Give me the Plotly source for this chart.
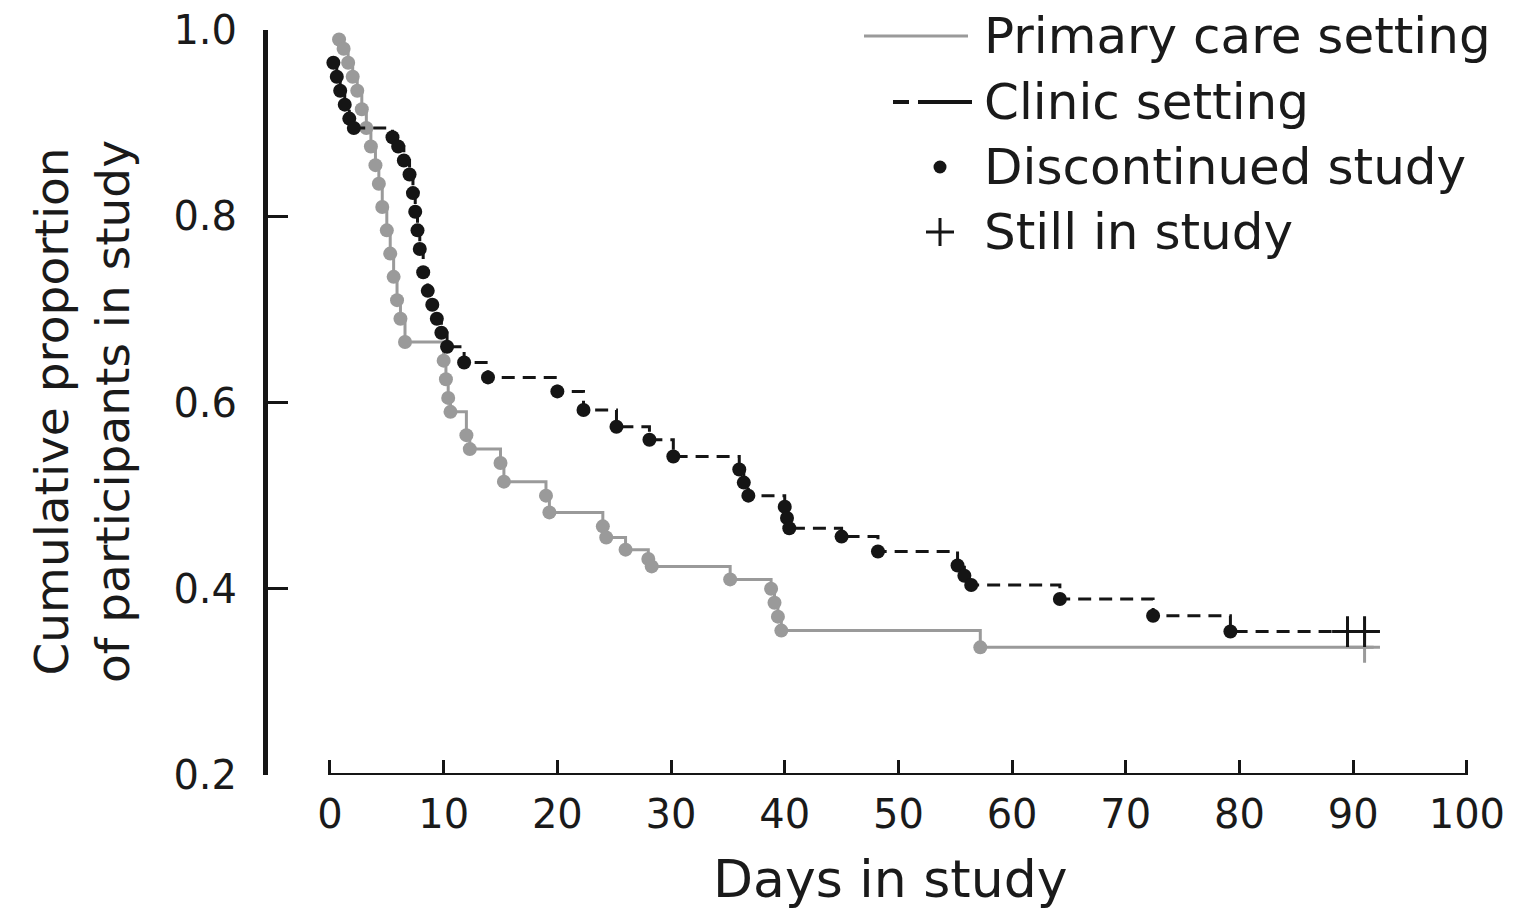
import plotly.graph_objects as go

# ---- data ----
primary_t = [0.8, 1.2, 1.6, 2.0, 2.4, 2.8, 3.2, 3.6, 4.0, 4.3, 4.6, 5.0, 5.3, 5.6, 5.9, 6.2, 6.6,
             10.0, 10.2, 10.4, 10.6, 12.0, 12.3, 15.0, 15.3, 19.0, 19.3, 24.0, 24.3, 26.0,
             28.0, 28.3, 35.2, 38.8, 39.1, 39.4, 39.7, 57.2]
primary_s = [0.99, 0.98, 0.965, 0.95, 0.935, 0.915, 0.895, 0.875, 0.855, 0.835, 0.81, 0.785,
             0.76, 0.735, 0.71, 0.69, 0.665, 0.645, 0.625, 0.605, 0.59, 0.565, 0.55, 0.535,
             0.515, 0.50, 0.482, 0.467, 0.455, 0.442, 0.432, 0.424, 0.41, 0.40, 0.385, 0.37,
             0.355, 0.337]
primary_censor_t = [91.0]
primary_end_t = 91.8

clinic_t = [0.3, 0.6, 0.9, 1.3, 1.7, 2.1, 5.5, 6.0, 6.5, 7.0, 7.3, 7.5, 7.7, 7.9, 8.2, 8.6,
            9.0, 9.4, 9.8, 10.3, 11.8, 13.9, 20.0, 22.3, 25.2, 28.1, 30.2, 36.0, 36.4, 36.8,
            40.0, 40.2, 40.4, 45.0, 48.2, 55.2, 55.8, 56.4, 64.2, 72.4, 79.2]
clinic_s = [0.965, 0.95, 0.935, 0.92, 0.905, 0.895, 0.885, 0.875, 0.86, 0.845, 0.825, 0.805,
            0.785, 0.765, 0.74, 0.72, 0.705, 0.69, 0.675, 0.66, 0.643, 0.627, 0.612, 0.592,
            0.574, 0.56, 0.542, 0.528, 0.514, 0.50, 0.488, 0.476, 0.465, 0.456, 0.44, 0.425,
            0.414, 0.404, 0.389, 0.371, 0.354]
clinic_censor_t = [89.5, 91.0]
clinic_end_t = 92.0

x_ticks = [0, 10, 20, 30, 40, 50, 60, 70, 80, 90, 100]
y_ticks = [0.2, 0.4, 0.6, 0.8, 1.0]
y_tick_text = ["0.2", "0.4", "0.6", "0.8", "1.0"]
legend_labels = ["Primary care setting", "Clinic setting", "Discontinued study", "Still in study"]

GRAY = "#9a9a9a"
BLACK = "#151515"
FONT = "DejaVu Sans"

fig = go.Figure()

# primary care curve
fig.add_trace(go.Scatter(
    x=primary_t + [primary_end_t], y=primary_s + [primary_s[-1]],
    mode="lines", line=dict(color=GRAY, width=3, shape="hv"), showlegend=False))
fig.add_trace(go.Scatter(
    x=primary_t, y=primary_s, mode="markers",
    marker=dict(color=GRAY, size=14, symbol="circle"), showlegend=False))
fig.add_trace(go.Scatter(
    x=primary_censor_t, y=[primary_s[-1]] * len(primary_censor_t), mode="markers",
    marker=dict(symbol="cross-thin", size=22, line=dict(color=GRAY, width=3)),
    showlegend=False))

# clinic curve
fig.add_trace(go.Scatter(
    x=clinic_t + [clinic_end_t], y=clinic_s + [clinic_s[-1]],
    mode="lines", line=dict(color=BLACK, width=3, shape="hv", dash="13px,8px"),
    showlegend=False))
fig.add_trace(go.Scatter(
    x=clinic_t, y=clinic_s, mode="markers",
    marker=dict(color=BLACK, size=14, symbol="circle"), showlegend=False))
fig.add_trace(go.Scatter(
    x=clinic_censor_t, y=[clinic_s[-1]] * len(clinic_censor_t), mode="markers",
    marker=dict(symbol="cross-thin", size=22, line=dict(color=BLACK, width=3)),
    showlegend=False))

# detached x axis line from 0 to 100
fig.add_shape(type="line", xref="x", yref="y", x0=x_ticks[0], x1=x_ticks[-1],
              y0=y_ticks[0], y1=y_ticks[0], line=dict(color=BLACK, width=4))

# geometry (window pixels; page body has an 8px margin)
OFF = 8
W, H = 1517 - OFF, 912 - OFF
L, T = 268 - OFF, 30 - OFF
R = W - (1501 - OFF)
B = H - (775 - OFF)
pw, ph = W - L - R, H - T - B

def px(xp):
    return (xp - OFF - L) / pw

def py(yp):
    return (H - B - (yp - OFF)) / ph

rows_py = [36, 102, 167, 232]
fig.add_shape(type="line", xref="paper", yref="paper", x0=px(864), x1=px(968),
              y0=py(rows_py[0]), y1=py(rows_py[0]), line=dict(color=GRAY, width=3))
fig.add_shape(type="line", xref="paper", yref="paper", x0=px(893), x1=px(909),
              y0=py(rows_py[1]), y1=py(rows_py[1]), line=dict(color=BLACK, width=4))
fig.add_shape(type="line", xref="paper", yref="paper", x0=px(918), x1=px(972),
              y0=py(rows_py[1]), y1=py(rows_py[1]), line=dict(color=BLACK, width=4))
fig.add_trace(go.Scatter(x=[px(940)], y=[py(rows_py[2])], xaxis="x2", yaxis="y2",
                         mode="markers", marker=dict(color=BLACK, size=13),
                         showlegend=False, cliponaxis=False))
fig.add_trace(go.Scatter(x=[px(940)], y=[py(rows_py[3])], xaxis="x2", yaxis="y2",
                         mode="markers",
                         marker=dict(symbol="cross-thin", size=20, line=dict(color=BLACK, width=3)),
                         showlegend=False, cliponaxis=False))
for lab, r in zip(legend_labels, rows_py):
    fig.add_annotation(text=lab, xref="paper", yref="paper", x=px(982), y=py(r),
                       xanchor="left", yanchor="middle", showarrow=False,
                       font=dict(family=FONT, size=50, color="#1a1a1a"))

# axis titles
fig.add_annotation(text="Days in study", xref="paper", yref="paper", x=px(890), y=py(879),
                   xanchor="center", yanchor="middle", showarrow=False,
                   font=dict(family=FONT, size=52, color="#1a1a1a"))
fig.add_annotation(text="Cumulative proportion<br>of participants in study", xref="paper",
                   yref="paper", x=px(82), y=py(412), xanchor="center", yanchor="middle",
                   textangle=-90, showarrow=False,
                   font=dict(family=FONT, size=47, color="#1a1a1a"))

fig.update_layout(
    width=W, height=H,
    margin=dict(l=L, r=R, t=T, b=B, autoexpand=False),
    paper_bgcolor="white", plot_bgcolor="white",
    font=dict(family=FONT, color="#1a1a1a"),
    xaxis=dict(range=[-5.45, 103], tickvals=x_ticks, ticks="inside", ticklen=15,
               tickwidth=3, tickcolor=BLACK, showline=False, showgrid=False, zeroline=False,
               tickfont=dict(size=40, family=FONT), ticklabelstandoff=12,
               ticklabeloverflow="allow", automargin=False),
    yaxis=dict(range=[0.1999, 1.0002], tickvals=y_ticks, ticktext=y_tick_text,
               ticks="inside",
               ticklen=20, tickwidth=3, tickcolor=BLACK, showline=True, linewidth=5,
               linecolor=BLACK, showgrid=False, zeroline=False,
               tickfont=dict(size=40, family=FONT), ticklabelstandoff=18,
               ticklabeloverflow="allow", automargin=False),
    xaxis2=dict(range=[0, 1], domain=[0, 1], visible=False, overlaying="x"),
    yaxis2=dict(range=[0, 1], domain=[0, 1], visible=False, overlaying="y"),
)

fig.write_html("out.html")
